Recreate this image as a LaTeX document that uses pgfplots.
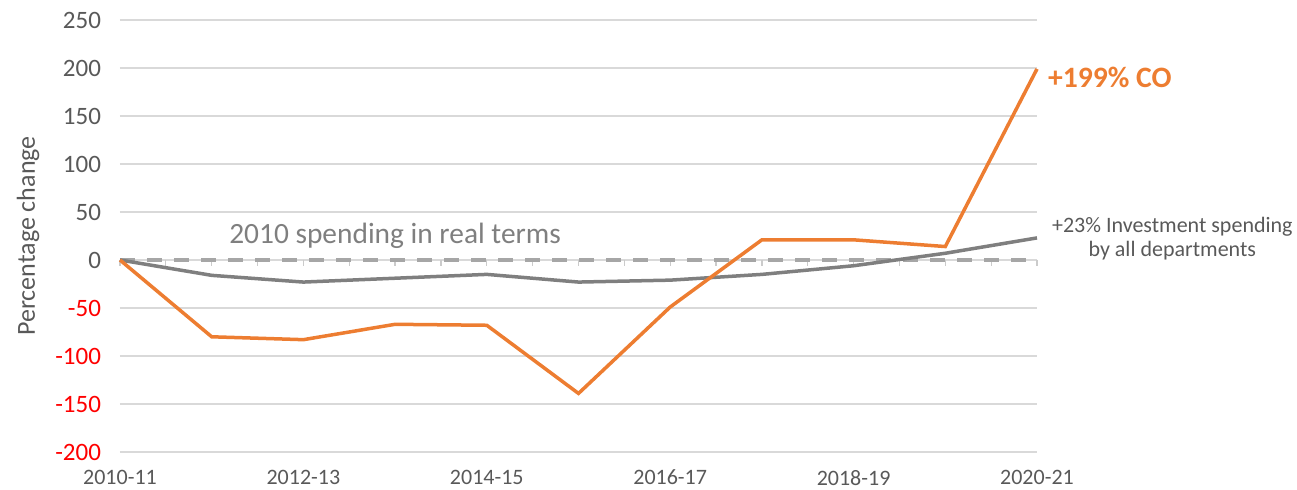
\documentclass[border=0pt]{standalone}
\usepackage{pgfplots}
\pgfplotsset{compat=1.18}
\usepackage{fontspec}
\setmainfont{Carlito}
\definecolor{corange}{HTML}{ED7D31}
\definecolor{cgray}{HTML}{7F7F7F}
\definecolor{cdash}{HTML}{A6A6A6}
\definecolor{ctext}{HTML}{595959}
\definecolor{cgrid}{HTML}{D9D9D9}
\begin{document}
\begin{tikzpicture}
\begin{axis}[
  name=ax,
  scale only axis,
  width=458.5pt, height=216pt,
  xmin=0, xmax=10, ymin=-200, ymax=250,
  axis line style={draw=none},
  xtick={0,2,4,6,8,10},
  xticklabels={2010-11,2012-13,2014-15,2016-17,2018-19,2020-21},
  ytick={-200,-150,-100,-50,0,50,100,150,200,250},
  yticklabels={\textcolor{red}{-200},\textcolor{red}{-150},\textcolor{red}{-100},\textcolor{red}{-50},0,50,100,150,200,250},
  major tick length=0pt,
  ymajorgrids,
  grid style={cgrid, line width=0.75pt},
  tick label style={font=\fontsize{12.5}{14}\selectfont, text=ctext},
  xticklabel style={font=\fontsize{11}{13}\selectfont, yshift=-5.5pt},
  yticklabel style={xshift=-6pt},
  /pgf/number format/assume math mode=true,
  ylabel={Percentage change},
  ylabel style={font=\fontsize{13}{15}\selectfont, text=ctext, at={(-46pt,0.5)}, anchor=center},
  clip=false,
]
\pgfplotsinvokeforeach{0,0.5,...,10}{\draw[cgrid!85!gray, line width=0.6pt] (axis cs:#1,0) -- ++(0pt,-3pt);}
\addplot[cdash, line width=2pt, dash pattern=on 7.5pt off 6pt] coordinates {(0,0) (10,0)};
\addplot[cgray, line width=1.75pt] coordinates {
(0,0) (1,-16) (2,-23) (3,-19) (4,-15) (5,-23) (6,-21) (7,-15) (8,-6) (9,7) (10,23)};
\addplot[corange, line width=1.75pt] coordinates {
(0,0) (1,-80) (2,-83) (3,-67) (4,-68) (5,-139) (6,-49) (7,21) (8,21) (9,14) (10,199)};
\node[anchor=center, text=cgray, font=\fontsize{14.7}{17}\selectfont] at (axis cs:3.0,25) {2010 spending in real terms};
\node[anchor=west, text=corange, font=\bfseries\fontsize{14.8}{17}\selectfont, xshift=2pt] at (axis cs:10,190) {+199\% CO};
\node[anchor=west, text=ctext, font=\fontsize{11}{12}\selectfont, align=center, xshift=4pt] at (axis cs:10,22) {+23\% Investment spending\\by all departments};
\end{axis}
\pgfresetboundingbox
\path ([shift={(-60pt,-19pt)}]ax.south west) rectangle ([shift={(130pt,10pt)}]ax.north east);
\end{tikzpicture}
\end{document}
